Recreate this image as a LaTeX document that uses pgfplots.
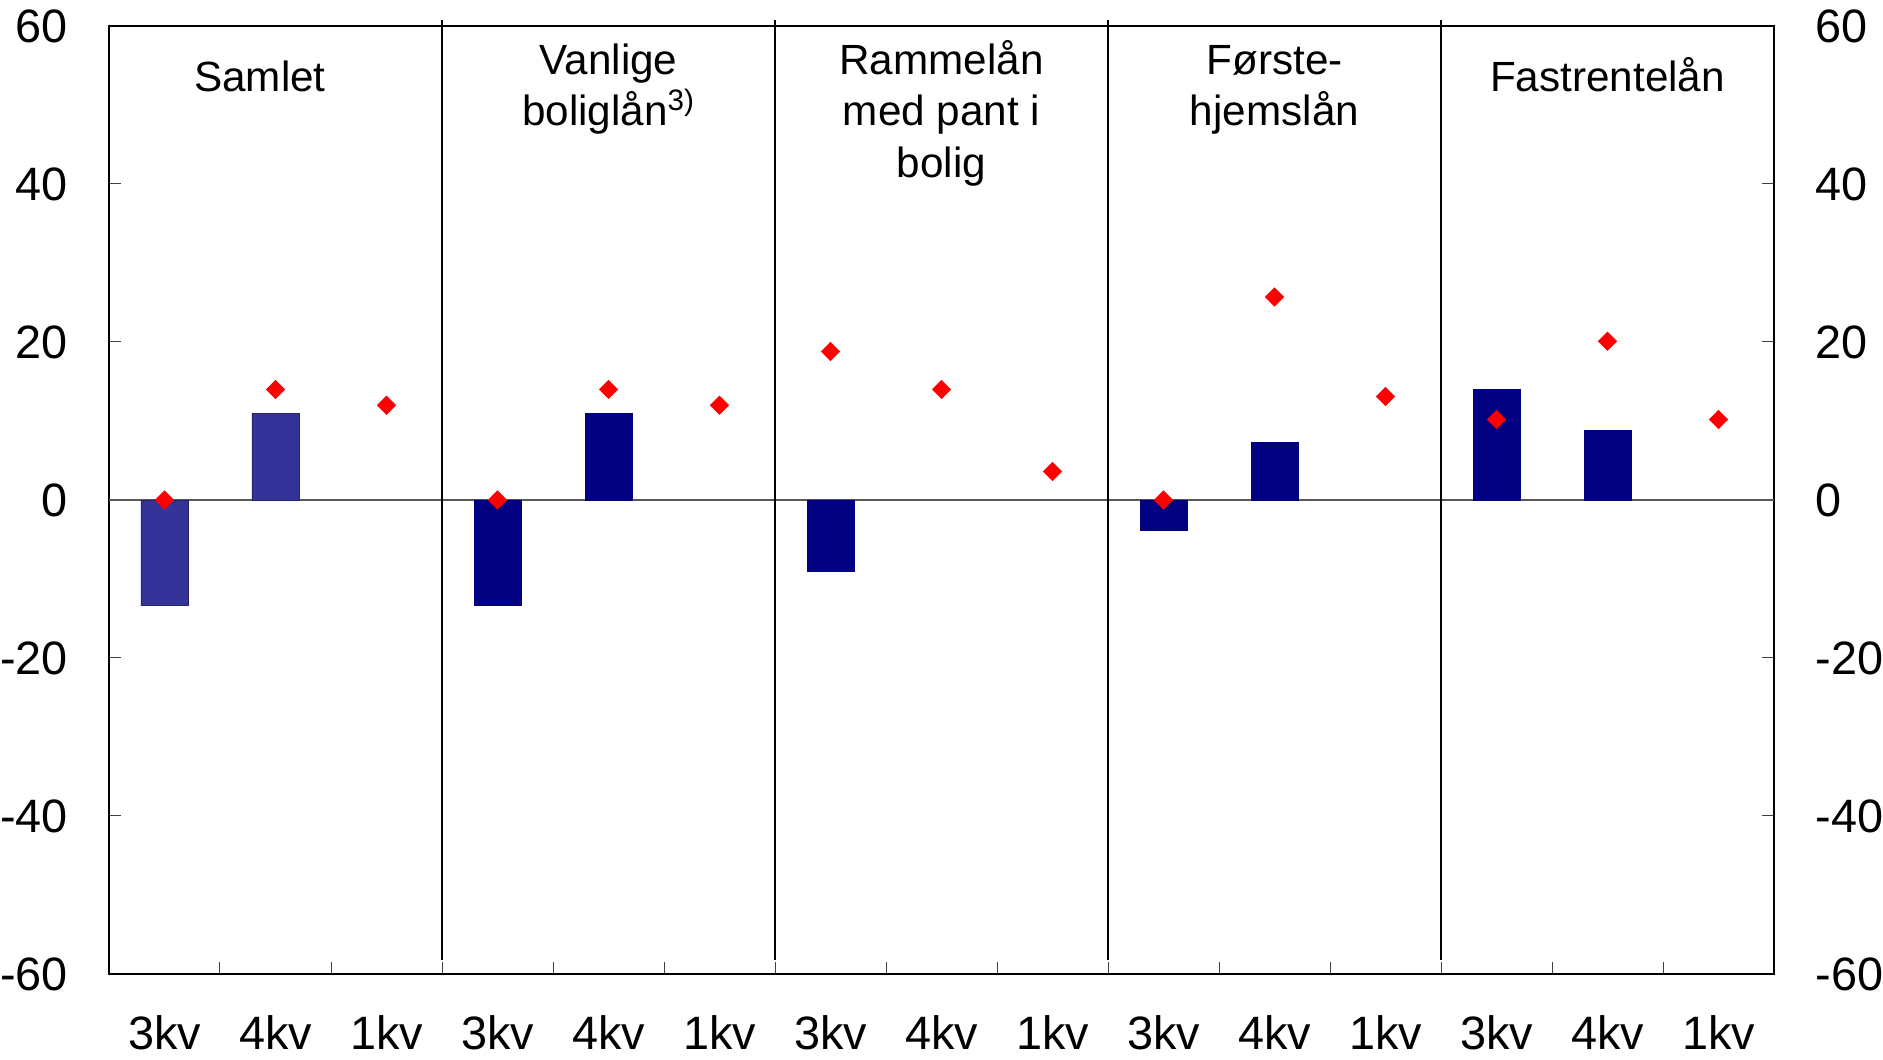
\documentclass[border=0pt]{standalone}
\usepackage{fontspec}
\setmainfont{Liberation Sans}
\usepackage{pgfplots}
\pgfplotsset{compat=1.18}

\definecolor{samletblue}{HTML}{333399}
\definecolor{navybar}{HTML}{000080}
\definecolor{diamondred}{HTML}{FF0000}
\newcommand{\chartfont}{\fontsize{23.5}{28}\selectfont}
\newcommand{\titlefont}{\fontsize{21.2}{25.8}\selectfont}

\begin{document}
\begin{tikzpicture}
\pgfplotsset{
  frame/.style={
    scale only axis, width=832.5bp, height=474bp,
    at={(0,0)}, anchor=south west,
    xmin=-0.5, xmax=14.5, ymin=-60, ymax=60,
    ytick={-60,-40,...,60},
    yticklabels={-60,-40,-20,0,20,40,60},
    tick label style={font=\chartfont},
    major tick length=6bp,
    tick style={line width=0.5bp, color=black!75},
    axis line style={line width=0.9bp},
  }
}
\begin{axis}[frame,
  clip=false,
  xtick={0.5,1.5,...,13.5}, xticklabels={},
  xtick pos=bottom,
  extra x ticks={0,...,14},
  extra x tick labels={3kv,4kv,1kv,3kv,4kv,1kv,3kv,4kv,1kv,3kv,4kv,1kv,3kv,4kv,1kv},
  extra x tick style={major tick length=0pt, xticklabel style={yshift=-17.2bp}},
  ytick pos=both, yticklabel pos=left,
  yticklabel style={xshift=-17bp},
]
\coordinate (SW) at (rel axis cs:0,0);
% zero line
\draw[line width=0.6bp, black!65] (axis cs:-0.5,0) -- (axis cs:14.5,0);
% group separators
\draw[line width=0.8bp] (axis cs:2.5,-58.2) -- (axis cs:2.5,60.7);
\draw[line width=0.8bp] (axis cs:5.5,-58.2) -- (axis cs:5.5,60.7);
\draw[line width=0.8bp] (axis cs:8.5,-58.2) -- (axis cs:8.5,60.7);
\draw[line width=0.8bp] (axis cs:11.5,-58.2) -- (axis cs:11.5,60.7);
% Samlet bars
\addplot[ybar, bar shift=0pt, bar width=23.5bp, fill=samletblue, draw=samletblue!70!black, line width=0.4bp]
  coordinates {(0,-13.4) (1,11.0)};
% other groups
\addplot[ybar, bar shift=0pt, bar width=23.5bp, fill=navybar, draw=navybar, line width=0.4bp]
  coordinates {(3,-13.4) (4,10.9) (6,-9.1) (9,-3.8) (10,7.3) (12,14.0) (13,8.8)};
% diamonds
\addplot[only marks, mark=square*, mark options={rotate=45}, mark size=3.2bp, color=diamondred, fill=diamondred]
  coordinates {(0,0) (1,14.0) (2,12.0) (3,0) (4,14.0) (5,12.0) (6,18.8) (7,14.0) (8,3.6)
               (9,0) (10,25.7) (11,13.1) (12,10.2) (13,20.1) (14,10.2)};
% group titles
\node[font=\titlefont, anchor=base, xshift=-7.8bp, yshift=-32.6bp] at (axis cs:1,60) {Samlet};
\node[font=\titlefont, anchor=base, yshift=-24.2bp] at (axis cs:4,60) {Vanlige};
\node[font=\titlefont, anchor=base, yshift=-50bp] at (axis cs:4,60) {boliglån\textsuperscript{3)}};
\node[font=\titlefont, anchor=base, yshift=-24.2bp] at (axis cs:7,60) {Rammelån};
\node[font=\titlefont, anchor=base, yshift=-50bp] at (axis cs:7,60) {med pant i};
\node[font=\titlefont, anchor=base, yshift=-75.8bp] at (axis cs:7,60) {bolig};
\node[font=\titlefont, anchor=base, yshift=-24.2bp] at (axis cs:10,60) {Første-};
\node[font=\titlefont, anchor=base, yshift=-50bp] at (axis cs:10,60) {hjemslån};
\node[font=\titlefont, anchor=base, yshift=-32.6bp] at (axis cs:13,60) {Fastrentelån};
\end{axis}
\begin{axis}[frame,
  xtick=\empty,
  ytick pos=right, yticklabel pos=right,
  yticklabel style={xshift=17.2bp},
  axis line style={draw=none},
  major tick length=0pt,
]
\end{axis}
\pgfresetboundingbox
\path[use as bounding box] ([shift={(-54.5bp,-43bp)}]SW) rectangle ([shift={(887bp,487bp)}]SW);
\end{tikzpicture}
\end{document}
